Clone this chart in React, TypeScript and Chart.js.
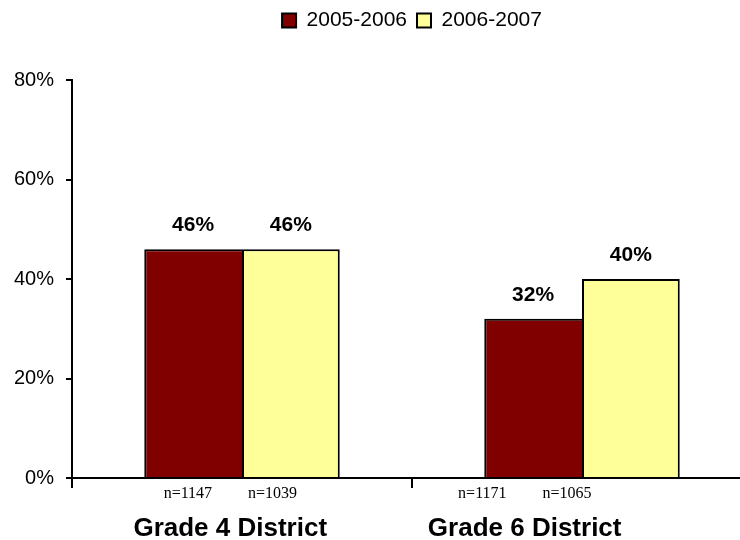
import { useEffect, useRef } from 'react';
import { Chart, registerables } from 'chart.js';

Chart.register(...registerables);

const categories = ['Grade 4 District', 'Grade 6 District'];
const seriesLabels = ['2005-2006', '2006-2007'];
const pct2005 = [46, 32];
const pct2006 = [46, 40];
const n2005 = [1147, 1171];
const n2006 = [1039, 1065];
const sampleSizes = [n2005, n2006];
const yTickValues = [0, 20, 40, 60, 80];

const SANS = '"Liberation Sans", Arial, Helvetica, sans-serif';
const SERIF = '"Liberation Serif", "Times New Roman", serif';

// Extra room between the legend and the top of the plot.
const legendGap = {
  id: 'legendGap',
  beforeInit(chart: any) {
    const legend = chart.legend;
    if (!legend) return;
    const fit = legend.fit;
    legend.fit = function () {
      fit.call(legend);
      this.height += 39;
    };
  },
};

// The footer text row (sample sizes and group names) is laid out on a
// slightly narrower band than the plot itself.
const footerX = (px: number, left: number) => left + 11 + (px - left) * 0.866;

const barText = {
  id: 'barText',
  afterDatasetsDraw(chart: any) {
    const { ctx, chartArea } = chart;
    const xScale = chart.scales.x;
    ctx.save();
    ctx.fillStyle = '#000';
    ctx.textAlign = 'center';

    chart.data.datasets.forEach((ds: any, di: number) => {
      const meta = chart.getDatasetMeta(di);
      meta.data.forEach((bar: any, i: number) => {
        // value above the bar
        ctx.font = `bold 21px ${SANS}`;
        ctx.textBaseline = 'alphabetic';
        ctx.fillText(`${ds.data[i]}%`, bar.x, bar.y - 18);
        // sample size below the axis
        ctx.font = `16px ${SERIF}`;
        ctx.textBaseline = 'middle';
        ctx.fillText(`n=${sampleSizes[di][i]}`, footerX(bar.x, chartArea.left), chartArea.bottom + 16);
      });
    });

    ctx.font = `bold 26px ${SANS}`;
    ctx.textBaseline = 'alphabetic';
    categories.forEach((name, i) => {
      const px = xScale.getPixelForValue(i);
      ctx.fillText(name, footerX(px, chartArea.left), chartArea.bottom + 58);
    });
    ctx.restore();
  },
};

export default function App() {
  const canvasRef = useRef<HTMLCanvasElement | null>(null);

  useEffect(() => {
    const canvas = canvasRef.current;
    if (!canvas) return;

    const chart = new Chart(canvas, {
      type: 'bar',
      data: {
        labels: categories,
        datasets: [
          {
            label: seriesLabels[0],
            data: pct2005,
            backgroundColor: '#800000',
            borderColor: '#000000',
            borderWidth: { top: 2, left: 2, right: 0, bottom: 0 },
            borderSkipped: false,
          },
          {
            label: seriesLabels[1],
            data: pct2006,
            backgroundColor: '#FFFF99',
            borderColor: '#000000',
            borderWidth: { top: 2, left: 2, right: 2, bottom: 0 },
            borderSkipped: false,
          },
        ],
      },
      options: {
        responsive: false,
        animation: false,
        events: [],
        layout: { padding: { top: 0, right: 8, bottom: 52, left: 0 } },
        datasets: {
          bar: { barPercentage: 1, categoryPercentage: 0.575 },
        },
        plugins: {
          tooltip: { enabled: false },
          legend: {
            position: 'top',
            fullSize: false,
            labels: {
              boxWidth: 14,
              boxHeight: 14,
              padding: 10,
              color: '#000',
              font: { family: SANS, size: 21 },
              generateLabels: (c: any) =>
                Chart.defaults.plugins.legend.labels
                  .generateLabels(c)
                  .map((l: any) => ({ ...l, lineWidth: 2, strokeStyle: '#000' })),
            },
          },
        },
        scales: {
          x: {
            type: 'category',
            offset: true,
            border: { display: true, color: '#000', width: 2 },
            grid: {
              offset: true,
              drawOnChartArea: false,
              drawTicks: true,
              tickLength: 10,
              color: '#000',
              lineWidth: 2,
            },
            ticks: { display: false },
          },
          y: {
            min: 0,
            max: 80,
            afterFit: (scale: any) => {
              scale.width = 72;
            },
            afterBuildTicks: (scale: any) => {
              scale.ticks = yTickValues.map((v) => ({ value: v }));
            },
            border: { display: true, color: '#000', width: 2 },
            grid: {
              drawOnChartArea: false,
              drawTicks: true,
              tickLength: 6,
              color: '#000',
              lineWidth: 2,
            },
            ticks: {
              padding: 12,
              color: '#000',
              font: { family: SANS, size: 20 },
              callback: (v: any) => `${v}%`,
            },
          },
        },
      },
      plugins: [legendGap, barText],
    } as any);

    return () => chart.destroy();
  }, []);

  return (
    <div style={{ position: 'fixed', left: 0, top: 0, background: '#fff' }}>
      <canvas ref={canvasRef} width={760} height={540} style={{ display: 'block' }} />
    </div>
  );
}
